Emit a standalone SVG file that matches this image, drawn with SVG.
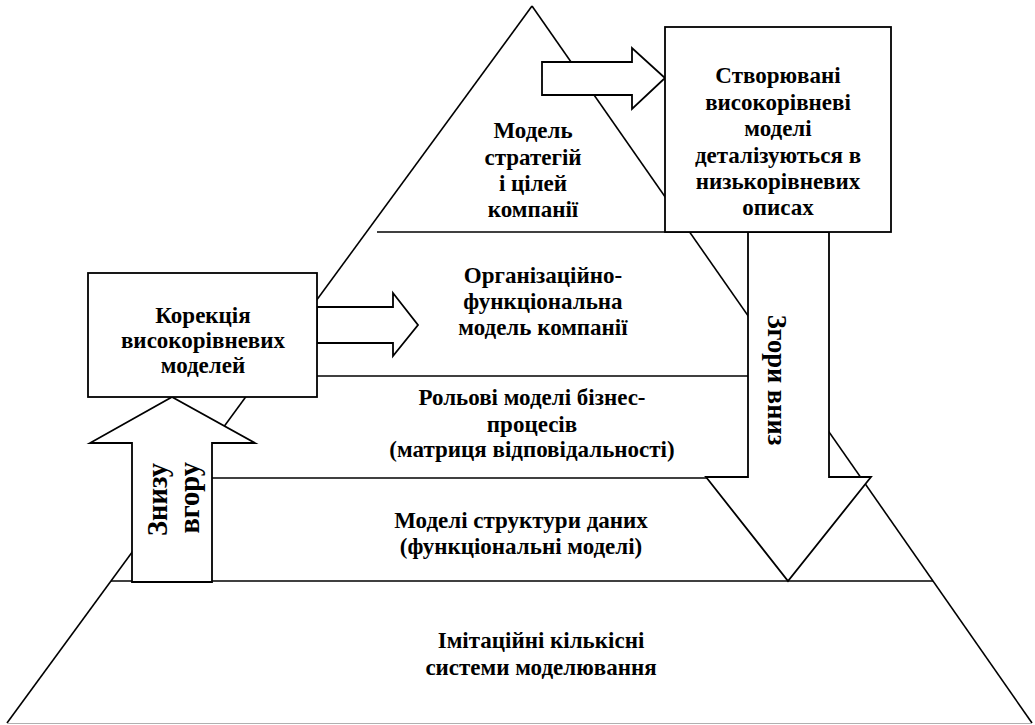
<svg xmlns="http://www.w3.org/2000/svg" width="1035" height="725" viewBox="0 0 1035 725">
<style>
.ln{stroke:#000;stroke-width:1.6;fill:none}
.sh{stroke:#000;stroke-width:1.8;fill:#fff;stroke-linejoin:miter}
.t{font-family:'Liberation Serif','DejaVu Serif',serif;font-weight:700;font-size:23px;fill:#000;text-anchor:middle}
.tr{font-family:'Liberation Serif','DejaVu Serif',serif;font-weight:700;font-size:27px;fill:#000}
.tu{font-size:28.5px}
.td{font-size:26.5px}
</style>
<rect width="1035" height="725" fill="#fff"/>
<g id="pyramid">
<line class="ln" x1="532" y1="6" x2="7" y2="723"/>
<line class="ln" x1="532" y1="6" x2="1032" y2="723"/>
<line x1="7" y1="723.5" x2="1032" y2="723.5" stroke="#b0b0b0" stroke-width="1.2"/>
<line class="ln" x1="377" y1="232" x2="748" y2="232"/>
<line class="ln" x1="317" y1="376" x2="748" y2="376"/>
<line class="ln" x1="212" y1="478" x2="748" y2="478"/>
<line class="ln" x1="111" y1="581" x2="933" y2="581"/>
</g>
<g id="layer1"><text class="t" x="533" y="138">Модель</text><text class="t" x="533" y="165">стратегій</text><text class="t" x="533" y="191">і цілей</text><text class="t" x="533" y="217">компанії</text></g>
<g id="layer2"><text class="t" x="543" y="283">Організаційно-</text><text class="t" x="543" y="309">функціональна</text><text class="t" x="543" y="335">модель компанії</text></g>
<g id="layer3"><text class="t" x="532" y="405">Рольові моделі бізнес-</text><text class="t" x="532" y="432">процесів</text><text class="t" x="532" y="457">(матриця відповідальності)</text></g>
<g id="layer4"><text class="t" x="521" y="528">Моделі структури даних</text><text class="t" x="521" y="554">(функціональні моделі)</text></g>
<g id="layer5"><text class="t" x="541" y="648">Імітаційні кількісні</text><text class="t" x="541" y="675">системи моделювання</text></g>
<g id="connectors">
<polygon id="arrow-top" class="sh" points="542,62 632,62 632,48 665,78 632,109 632,95 542,95"/>
<polygon id="arrow-right" class="sh" points="317,307 393,307 393,293 418,325 393,356 393,343 317,343"/>
<polygon id="arrow-down" class="sh" points="748,232 829,232 829,477 871,477 788,581 706,477 748,477"/>
<polygon id="arrow-up" class="sh" points="132,582 132,443 90,443 172,397 255,443 212,443 212,582"/>
<text class="tr td" transform="translate(768,380) rotate(90)" text-anchor="middle">Згори вниз</text>
<text class="tr tu" transform="translate(167,463) rotate(-90)" text-anchor="end">Знизу</text>
<text class="tr tu" transform="translate(199,462) rotate(-90)" text-anchor="end">вгору</text>
</g>
<g id="box-top">
<rect class="sh" x="665" y="27" width="226" height="205"/>
<text class="t" x="778" y="83">Створювані</text><text class="t" x="778" y="110">високорівневі</text><text class="t" x="778" y="136">моделі</text><text class="t" x="778" y="163">деталізуються в</text><text class="t" x="778" y="189">низькорівневих</text><text class="t" x="778" y="215">описах</text>
</g>
<g id="box-left">
<rect class="sh" x="88" y="273" width="229" height="124"/>
<text class="t" x="203" y="323">Корекція</text><text class="t" x="203" y="348">високорівневих</text><text class="t" x="203" y="373">моделей</text>
</g>
</svg>
